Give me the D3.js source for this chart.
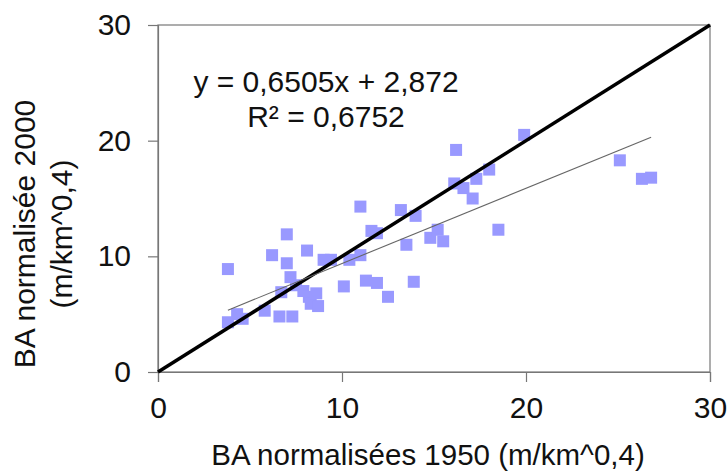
<!DOCTYPE html>
<html>
<head>
<meta charset="utf-8">
<script src="https://cdn.jsdelivr.net/npm/d3@7"></script>
<style>
  html, body { margin: 0; padding: 0; background: #fff; }
  svg { display: block; font-family: Arial, "Liberation Sans", sans-serif; }
</style>
</head>
<body>
<div id="chart"></div>
<script>
// BA normalisées 1950 (x) vs 2000 (y)
var ba1950 = [3.8, 3.8, 4.3, 4.6, 5.8, 6.2, 6.6, 6.7, 7.0, 7.0, 7.2, 7.3, 7.5, 7.9, 8.1, 8.2,
  8.3, 8.6, 8.7, 9.0, 9.4, 10.1, 10.4, 11.0, 11.0, 11.3, 11.6, 11.9, 11.9, 12.5, 13.2, 13.5,
  13.9, 14.0, 14.8, 15.2, 15.5, 16.2, 16.1, 16.6, 17.1, 17.3, 18.0, 18.5, 19.9, 25.1, 26.3, 26.8];
var ba2000 = [8.9, 4.3, 5.0, 4.6, 5.3, 10.1, 4.8, 6.9, 11.9, 9.4, 8.2, 4.8, 7.5, 7.0, 10.5, 6.5,
  5.9, 6.8, 5.7, 9.7, 9.7, 7.4, 9.7, 10.1, 14.3, 7.9, 12.2, 7.7, 12.0, 6.5, 14.0, 11.0,
  7.8, 13.5, 11.6, 12.3, 11.3, 19.2, 16.3, 15.9, 15.0, 16.7, 17.5, 12.3, 20.5, 18.3, 16.7, 16.8];
var xTicks = [0, 10, 20, 30];
var yTicks = [0, 10, 20, 30];
var slope = 0.6505, intercept = 2.872, r2 = "0,6752";

var W = 728, H = 473;
var margin = { top: 25, right: 18, bottom: 101, left: 158 };
var iW = W - margin.left - margin.right;
var iH = H - margin.top - margin.bottom;
var fs = "30px";

var svg = d3.select("#chart").append("svg").attr("width", W).attr("height", H);
var g = svg.append("g").attr("transform", "translate(" + margin.left + "," + margin.top + ")");

var x = d3.scaleLinear().domain([0, 30]).range([0, iW]);
var y = d3.scaleLinear().domain([0, 30]).range([iH, 0]);

// frame
g.append("rect").attr("width", iW).attr("height", iH)
  .attr("fill", "none").attr("stroke", "#777").attr("stroke-width", 1.2);

// axes
var xAxis = g.append("g").attr("transform", "translate(0," + iH + ")")
  .call(d3.axisBottom(x).tickValues(xTicks).tickSize(10).tickPadding(15));
var yAxis = g.append("g")
  .call(d3.axisLeft(y).tickValues(yTicks).tickSize(10).tickPadding(17));
[xAxis, yAxis].forEach(function (a) {
  a.select(".domain").attr("stroke", "#777").attr("stroke-width", 1.2);
  a.selectAll(".tick line").attr("stroke", "#777").attr("stroke-width", 1.2);
  a.selectAll(".tick text").attr("fill", "#111").style("font-size", fs)
    .style("font-family", "Arial, 'Liberation Sans', sans-serif");
});

var pts = ba1950.map(function (v, i) { return { x: v, y: ba2000[i] }; });

// points
var s = 12;
g.selectAll(".pt").data(pts).join("rect")
  .attr("class", "pt")
  .attr("x", function (d) { return x(d.x) - s / 2; })
  .attr("y", function (d) { return y(d.y) - s / 2; })
  .attr("width", s).attr("height", s)
  .attr("fill", "#9999ff");

// 1:1 line
g.append("line")
  .attr("x1", x(0)).attr("y1", y(0)).attr("x2", x(30)).attr("y2", y(30))
  .attr("stroke", "#000").attr("stroke-width", 3.5);

// trend line
var xMin = d3.min(ba1950), xMax = d3.max(ba1950);
g.append("line")
  .attr("x1", x(xMin)).attr("y1", y(slope * xMin + intercept))
  .attr("x2", x(xMax)).attr("y2", y(slope * xMax + intercept))
  .attr("stroke", "#666").attr("stroke-width", 1.1);

// equation
var eq = svg.append("text").attr("text-anchor", "middle")
  .style("font-size", fs).attr("fill", "#111");
eq.append("tspan").attr("x", 326).attr("y", 92)
  .text("y = " + String(slope).replace(".", ",") + "x + " + String(intercept).replace(".", ","));
eq.append("tspan").attr("x", 326).attr("y", 127).text("R² = " + r2);

// axis titles
svg.append("text").attr("x", 428).attr("y", 465).attr("text-anchor", "middle")
  .style("font-size", "29.5px").attr("fill", "#111")
  .text("BA normalisées 1950 (m/km^0,4)");

var yt = svg.append("text").attr("transform", "translate(0,234) rotate(-90)")
  .attr("text-anchor", "middle").style("font-size", fs).attr("fill", "#111");
yt.append("tspan").attr("x", 0).attr("y", 35).text("BA normalisée 2000");
yt.append("tspan").attr("x", 0).attr("y", 72).text("(m/km^0,4)");
</script>
</body>
</html>
